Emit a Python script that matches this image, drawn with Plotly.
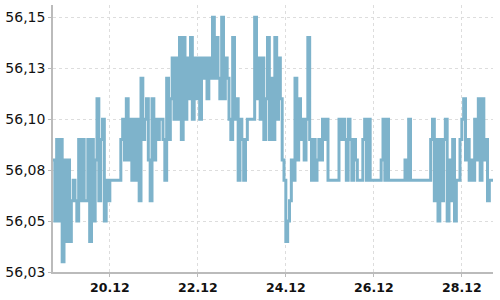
import pandas as pd
import plotly.graph_objects as go

# hourly values, in hundredths above 56.00, starting 18.12 17:00
day1 = [8, 5, 9, 5, 9, 3, 8, 4, 8, 4, 6, 7, 6, 5, 9, 6, 9, 6, 6, 9, 4, 9, 5, 8]
day2 = [11, 6, 9, 10, 5, 7, 6, 7, 7, 7, 7, 7, 7, 9, 10, 8, 11, 8, 10, 7, 10, 7, 10, 6]
day3 = [12, 9, 10, 11, 8, 6, 11, 8, 10, 9, 10, 10, 9, 7, 12, 9, 11, 13, 10, 13, 10, 14, 9, 14]
day4 = [10, 13, 11, 14, 10, 13, 11, 13, 10, 13, 12, 13, 11, 13, 12, 15, 12, 14, 12, 11, 15, 11, 13, 12]
day5 = [10, 9, 14, 10, 11, 7, 10, 9, 7, 9, 10, 10, 10, 10, 15, 11, 13, 10, 13, 9, 11, 14, 9, 12]
day6 = [9, 14, 10, 13, 11, 8, 7, 4, 5, 6, 8, 7, 12, 8, 11, 9, 10, 8, 10, 14, 9, 7, 9, 7]
day7 = [8, 9, 8, 10, 9, 10, 7, 7, 7, 7, 7, 7, 10, 9, 10, 9, 7, 10, 9, 7, 9, 8, 7, 7]
day8 = [7, 9, 10, 7, 10, 7, 7, 7, 7, 7, 7, 8, 10, 7, 10, 7, 7, 7, 7, 7, 7, 7, 7, 7]
day9 = [8, 7, 10, 7, 7, 7, 7, 7, 7, 7, 7, 7, 7, 7, 9, 10, 6, 9, 5, 9, 6, 9, 10, 5]
day10 = [8, 6, 9, 5, 7, 7, 9, 10, 11, 8, 9, 7, 8, 7, 10, 8, 11, 7, 11, 8, 9, 6, 7, 7]
last = [7]

start_time = "2023-12-18 17:00"
base_value = 56.0

y_tickvals = [56.025, 56.05, 56.075, 56.10, 56.125, 56.15]
y_ticktext = ["56,03", "56,05", "56,08", "56,10", "56,13", "56,15"]

cents = day1 + day2 + day3 + day4 + day5 + day6 + day7 + day8 + day9 + day10 + last
times = pd.date_range(start_time, periods=len(cents), freq="h")
values = [round(base_value + c / 100, 2) for c in cents]

fig = go.Figure(
    go.Scatter(
        x=times,
        y=values,
        mode="lines",
        line=dict(color="#7eb3cb", width=3, shape="hv"),
        hoverinfo="skip",
    )
)

axis_color = "#bbbbbb"
grid_color = "#dddddd"

fig.update_layout(
    width=500,
    height=300,
    margin=dict(l=53, r=7, t=5, b=24),
    paper_bgcolor="white",
    plot_bgcolor="white",
    showlegend=False,
    separators=", ",
)
fig.update_xaxes(
    range=[times[0], times[-1]],
    tick0="2023-12-20",
    dtick=2 * 24 * 3600 * 1000,
    tickformat="%d.%m",
    showgrid=True,
    gridcolor=grid_color,
    griddash="3px,3px",
    gridwidth=1,
    showline=True,
    linecolor=axis_color,
    linewidth=1.5,
    ticks="outside",
    ticklen=3,
    tickcolor=axis_color,
    tickfont=dict(family="DejaVu Sans", size=12.5, color="#111111", weight="bold"),
    zeroline=False,
)
fig.update_yaxes(
    range=[56.025, 56.156],
    tickmode="array",
    tickvals=y_tickvals,
    ticktext=y_ticktext,
    showgrid=True,
    gridcolor=grid_color,
    griddash="3px,3px",
    gridwidth=1,
    showline=True,
    linecolor=axis_color,
    linewidth=1.5,
    ticks="outside",
    ticklen=3,
    tickcolor=axis_color,
    tickfont=dict(family="DejaVu Sans", size=14, color="#111111"),
    zeroline=False,
)

fig.write_html("out.html")
